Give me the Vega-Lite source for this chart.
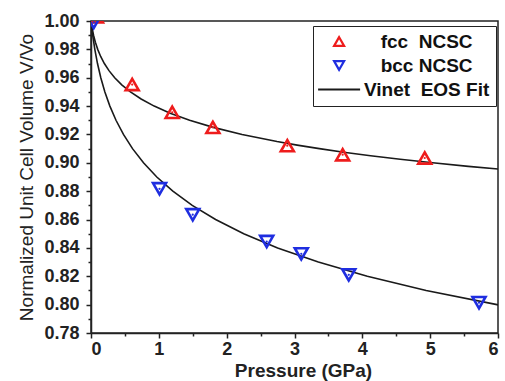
{
  "$schema": "https://vega.github.io/schema/vega-lite/v6.json",
  "width": 407,
  "height": 312,
  "autosize": {"type": "none"},
  "padding": {"left": 91, "top": 21, "right": 7, "bottom": 48},
  "background": "white",
  "config": {
    "view": {"stroke": "#222", "strokeWidth": 1.5},
    "axis": {"grid": false, "labelFont": "Liberation Sans", "labelFontWeight": "bold", "labelFontSize": 18, "labelColor": "#222", "titleFont": "Liberation Sans", "titleColor": "#222", "domainColor": "#222", "domainWidth": 1.5, "tickColor": "#222", "tickWidth": 1.5}
  },
  "datasets": {
    "points": [
      {"series": "fcc\u00a0 NCSC", "P": 0.08, "V": 1.003},
      {"series": "fcc\u00a0 NCSC", "P": 0.607, "V": 0.9552},
      {"series": "fcc\u00a0 NCSC", "P": 1.197, "V": 0.9356},
      {"series": "fcc\u00a0 NCSC", "P": 1.797, "V": 0.925},
      {"series": "fcc\u00a0 NCSC", "P": 2.894, "V": 0.9121},
      {"series": "fcc\u00a0 NCSC", "P": 3.71, "V": 0.9057},
      {"series": "fcc\u00a0 NCSC", "P": 4.92, "V": 0.9034},
      {"series": "bcc NCSC", "P": 0.04, "V": 0.999},
      {"series": "bcc NCSC", "P": 1.01, "V": 0.8817},
      {"series": "bcc NCSC", "P": 1.5, "V": 0.8634},
      {"series": "bcc NCSC", "P": 2.59, "V": 0.8445},
      {"series": "bcc NCSC", "P": 3.1, "V": 0.8358},
      {"series": "bcc NCSC", "P": 3.8, "V": 0.821},
      {"series": "bcc NCSC", "P": 5.72, "V": 0.8014}
    ],
    "curves": [
      {"curve": "fcc", "P": 0, "V": 1.0},
      {"curve": "fcc", "P": 0.0162, "V": 0.995},
      {"curve": "fcc", "P": 0.0374, "V": 0.99},
      {"curve": "fcc", "P": 0.0645, "V": 0.985},
      {"curve": "fcc", "P": 0.099, "V": 0.98},
      {"curve": "fcc", "P": 0.1425, "V": 0.975},
      {"curve": "fcc", "P": 0.197, "V": 0.97},
      {"curve": "fcc", "P": 0.265, "V": 0.965},
      {"curve": "fcc", "P": 0.3493, "V": 0.96},
      {"curve": "fcc", "P": 0.4534, "V": 0.955},
      {"curve": "fcc", "P": 0.5816, "V": 0.95},
      {"curve": "fcc", "P": 0.7389, "V": 0.945},
      {"curve": "fcc", "P": 0.9317, "V": 0.94},
      {"curve": "fcc", "P": 1.1671, "V": 0.935},
      {"curve": "fcc", "P": 1.4539, "V": 0.93},
      {"curve": "fcc", "P": 1.803, "V": 0.925},
      {"curve": "fcc", "P": 2.2273, "V": 0.92},
      {"curve": "fcc", "P": 2.7422, "V": 0.915},
      {"curve": "fcc", "P": 3.0392, "V": 0.9125},
      {"curve": "fcc", "P": 3.3662, "V": 0.91},
      {"curve": "fcc", "P": 3.7258, "V": 0.9075},
      {"curve": "fcc", "P": 4.1216, "V": 0.905},
      {"curve": "fcc", "P": 4.558, "V": 0.9025},
      {"curve": "fcc", "P": 5.0363, "V": 0.9},
      {"curve": "fcc", "P": 5.5626, "V": 0.8975},
      {"curve": "fcc", "P": 6.0, "V": 0.8956},
      {"curve": "bcc", "P": 0, "V": 1.0},
      {"curve": "bcc", "P": 0.0117, "V": 0.995},
      {"curve": "bcc", "P": 0.025, "V": 0.99},
      {"curve": "bcc", "P": 0.0564, "V": 0.98},
      {"curve": "bcc", "P": 0.0957, "V": 0.97},
      {"curve": "bcc", "P": 0.1444, "V": 0.96},
      {"curve": "bcc", "P": 0.2046, "V": 0.95},
      {"curve": "bcc", "P": 0.2783, "V": 0.94},
      {"curve": "bcc", "P": 0.3685, "V": 0.93},
      {"curve": "bcc", "P": 0.4784, "V": 0.92},
      {"curve": "bcc", "P": 0.612, "V": 0.91},
      {"curve": "bcc", "P": 0.774, "V": 0.9},
      {"curve": "bcc", "P": 0.97, "V": 0.89},
      {"curve": "bcc", "P": 1.2067, "V": 0.88},
      {"curve": "bcc", "P": 1.4925, "V": 0.87},
      {"curve": "bcc", "P": 1.8369, "V": 0.86},
      {"curve": "bcc", "P": 2.2515, "V": 0.85},
      {"curve": "bcc", "P": 2.7509, "V": 0.84},
      {"curve": "bcc", "P": 3.3514, "V": 0.83},
      {"curve": "bcc", "P": 4.0733, "V": 0.82},
      {"curve": "bcc", "P": 4.941, "V": 0.81},
      {"curve": "bcc", "P": 5.985, "V": 0.8},
      {"curve": "bcc", "P": 6.0, "V": 0.7998}
    ]
  },
  "layer": [
    {
      "data": {"name": "curves"},
      "mark": {"type": "line", "color": "#1a1a1a", "strokeWidth": 1.6, "clip": true},
      "encoding": {
        "x": {"field": "P", "type": "quantitative", "scale": {"domain": [0, 6], "nice": false, "zero": false},
              "axis": {"orient": "bottom", "values": [0, 1, 2, 3, 4, 5, 6], "tickSize": 5, "labelPadding": 2, "title": "Pressure (GPa)", "titleFontSize": 19, "titleFontWeight": "bold", "titlePadding": 3, "titleX": 212}},
        "y": {"field": "V", "type": "quantitative", "scale": {"domain": [0.78, 1.0], "nice": false, "zero": false},
              "axis": {"orient": "left", "values": [0.78, 0.8, 0.82, 0.84, 0.86, 0.88, 0.9, 0.92, 0.94, 0.96, 0.98, 1.0], "format": ".2f", "tickSize": 5, "labelPadding": 7, "title": "Normalized Unit Cell Volume V/Vo", "titleFontSize": 19, "titleFontWeight": "normal", "titlePadding": 7}},
        "detail": {"field": "curve"}
      }
    },
    {
      "data": {"name": "points"},
      "mark": {"type": "point", "filled": false, "size": 169, "strokeWidth": 2.6, "opacity": 1, "clip": true},
      "encoding": {
        "x": {"field": "P", "type": "quantitative", "axis": null},
        "y": {"field": "V", "type": "quantitative", "axis": null},
        "color": {"field": "series", "type": "nominal",
          "scale": {"domain": ["fcc\u00a0 NCSC", "bcc NCSC", "Vinet\u00a0 EOS Fit"], "range": ["#ee1c1c", "#1f2ee0", "#1a1a1a"]},
          "legend": {"orient": "none", "legendX": 222, "legendY": 5, "title": null, "strokeColor": "#222", "padding": 6, "symbolOffset": 10.6, "labelOffset": 78, "labelAlign": "center", "labelFont": "Liberation Sans", "labelFontSize": 19, "labelFontWeight": "bold", "labelColor": "#111", "rowPadding": 4, "symbolSize": 100, "symbolStrokeWidth": 2.2, "symbolOpacity": 1, "labelLimit": 300}},
        "shape": {"field": "series", "type": "nominal",
          "scale": {"domain": ["fcc\u00a0 NCSC", "bcc NCSC", "Vinet\u00a0 EOS Fit"], "range": ["triangle-up", "triangle-down", "M-4.2,0H4.2"]},
          "legend": {"orient": "none", "legendX": 222, "legendY": 5, "title": null, "strokeColor": "#222", "padding": 6, "symbolOffset": 10.6, "labelOffset": 78, "labelAlign": "center", "labelFont": "Liberation Sans", "labelFontSize": 19, "labelFontWeight": "bold", "labelColor": "#111", "rowPadding": 4, "symbolSize": 100, "symbolStrokeWidth": 2.2, "symbolOpacity": 1, "labelLimit": 300}}
      }
    },
    {
      "data": {"name": "points"},
      "transform": [{"filter": "datum.series === 'bcc NCSC'"}],
      "mark": {"type": "point", "filled": true, "shape": "circle", "size": 5, "opacity": 1, "color": "#1f2ee0", "clip": true},
      "encoding": {
        "x": {"field": "P", "type": "quantitative",
              "axis": {"orient": "bottom", "values": [0.5, 1.5, 2.5, 3.5, 4.5, 5.5], "tickSize": 3, "labels": false, "domain": false, "title": null}},
        "y": {"field": "V", "type": "quantitative",
              "axis": {"orient": "left", "values": [0.79, 0.81, 0.83, 0.85, 0.87, 0.89, 0.91, 0.93, 0.95, 0.97, 0.99], "tickSize": 3, "labels": false, "domain": false, "title": null}}
      }
    },
    {
      "data": {"name": "points"},
      "transform": [{"filter": "datum.series !== 'bcc NCSC'"}],
      "mark": {"type": "point", "filled": true, "shape": "circle", "size": 5, "opacity": 1, "color": "#ee1c1c", "clip": true},
      "encoding": {
        "x": {"field": "P", "type": "quantitative", "axis": null},
        "y": {"field": "V", "type": "quantitative", "axis": null}
      }
    }
  ],
  "resolve": {"axis": {"x": "independent", "y": "independent"}}
}
